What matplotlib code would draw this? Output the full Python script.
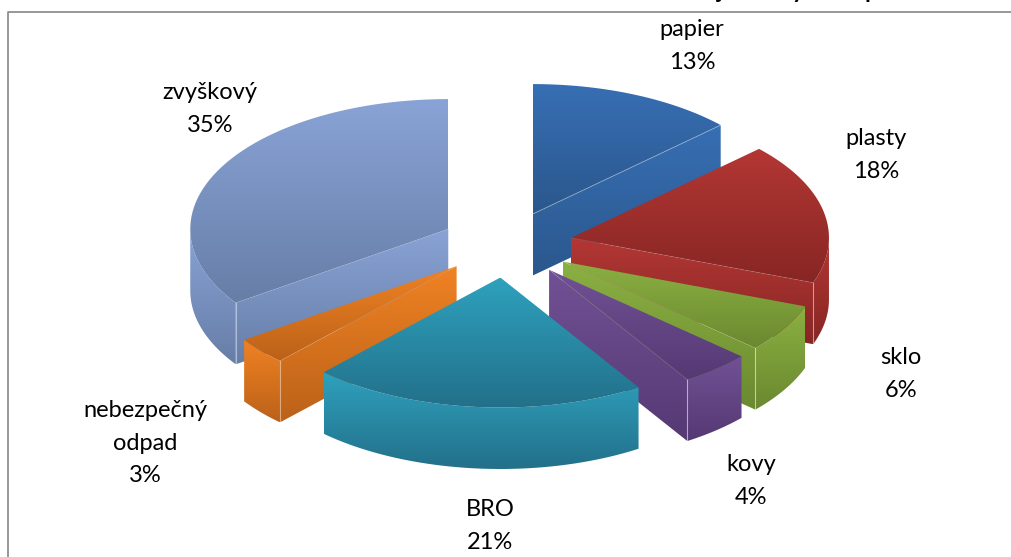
import numpy as np
import matplotlib
matplotlib.use('Agg')
import matplotlib.pyplot as plt
from matplotlib.patches import Polygon

labels = ['papier', 'plasty', 'sklo', 'kovy', 'BRO', 'nebezpečný\nodpad', 'zvyškový']
values = [13.0, 17.6, 6.0, 4.4, 21.0, 3.4, 34.6]
top_colors = ['#376fb4', '#b33734', '#8bb042', '#715195', '#2ea1bd', '#f08223', '#89a3d6']
bottom_colors = ['#2b578c', '#872624', '#6b8930', '#553973', '#23708a', '#bb6219', '#677ea7']
label_xy = [(692, 46), (876, 155), (901, 374), (751, 481), (490, 526), (145, 443), (210, 109)]
title_bits = [('j', 720), ('y', 798), ('p', 871)]    # title is cut off by the top of the picture

cx, cy = 506.5, 244.5    # pie centre, pixels
rx, ry = 258, 130        # ellipse of the top face
depth = 61.5
explode = 0.255

plt.rcParams['font.family'] = ['Lato', 'DejaVu Sans']

fig = plt.figure(figsize=(10.12, 5.57), dpi=100)
ax = fig.add_axes([0, 0, 1, 1])
ax.set_xlim(0, 1012)
ax.set_ylim(557, 0)
ax.axis('off')


def gradient_face(pts, c1, c2, zorder):
    # vertical gradient clipped to the face outline
    pts = np.array(pts)
    x0, x1 = pts[:, 0].min(), pts[:, 0].max()
    y0, y1 = pts[:, 1].min(), pts[:, 1].max()
    rgb1 = np.array(matplotlib.colors.to_rgb(c1))
    rgb2 = np.array(matplotlib.colors.to_rgb(c2))
    t = np.linspace(0, 1, 64)[:, None]
    img = (rgb1 + (rgb2 - rgb1) * t)[:, None, :]
    im = ax.imshow(img, extent=(x0, x1, y1, y0), aspect='auto', zorder=zorder,
                   interpolation='bilinear')
    poly = Polygon(pts, closed=True, transform=ax.transData, fc='none', ec='none')
    ax.add_patch(poly)
    im.set_clip_path(poly)


def rim_point(ax_c, ay_c, deg):
    a = np.radians(deg)
    return ax_c + rx * np.sin(a), ay_c - ry * np.cos(a)


shares = np.array(values) / sum(values) * 360
ends = np.cumsum(shares)
starts = ends - shares
mids = (starts + ends) / 2

# paint from the back of the pie to the front
order = sorted(range(len(values)), key=lambda i: -abs(mids[i] - 180))
z = 2
for i in order:
    s, e, m = starts[i], ends[i], mids[i]
    c1, c2 = top_colors[i], bottom_colors[i]
    ox = cx + explode * rx * np.sin(np.radians(m))
    oy = cy - explode * ry * np.cos(np.radians(m))
    arc = [rim_point(ox, oy, d) for d in np.linspace(s, e, 60)]

    # outer rim
    r0, r1 = max(s, 90), min(e, 270)
    if r1 > r0:
        up = [rim_point(ox, oy, d) for d in np.linspace(r0, r1, 40)]
        down = [(x, y + depth) for x, y in up[::-1]]
        gradient_face(up + down, c1, c2, z)
        z += 1
    # cut faces that look at the viewer
    edge = None
    if 0 < e < 180:
        edge = rim_point(ox, oy, e)
    elif 180 < s < 360:
        edge = rim_point(ox, oy, s)
    if edge is not None:
        gradient_face([(ox, oy), edge, (edge[0], edge[1] + depth), (ox, oy + depth)], c1, c2, z)
        z += 1
        if r1 > r0:
            ax.plot([edge[0], edge[0]], [edge[1], edge[1] + depth], color='white', alpha=0.45,
                    lw=0.8, zorder=z)
            z += 1
    # top face
    gradient_face([(ox, oy)] + arc, c1, c2, z)
    z += 1
    if edge is not None:
        ax.plot([ox, edge[0]], [oy, edge[1]], color='white', alpha=0.3 if i == 0 else 0.1,
                lw=0.7, zorder=z)
        z += 1

for i, name in enumerate(labels):
    ax.text(label_xy[i][0], label_xy[i][1], '%s\n%.0f%%' % (name, values[i]), fontsize=17,
            ha='center', va='center', color='black', linespacing=1.65, zorder=100)

for ch, x in title_bits:
    ax.text(x, -1.5, ch, fontsize=17, fontweight='bold', ha='center', va='baseline', color='black')

# chart frame, runs off the right and bottom of the picture
ax.plot([8, 8, 1012], [557, 11.5, 11.5], color='#868686', lw=1.2, zorder=90)

ax.set_xlim(0, 1012)
ax.set_ylim(557, 0)
fig.savefig('out.png', dpi=100)
